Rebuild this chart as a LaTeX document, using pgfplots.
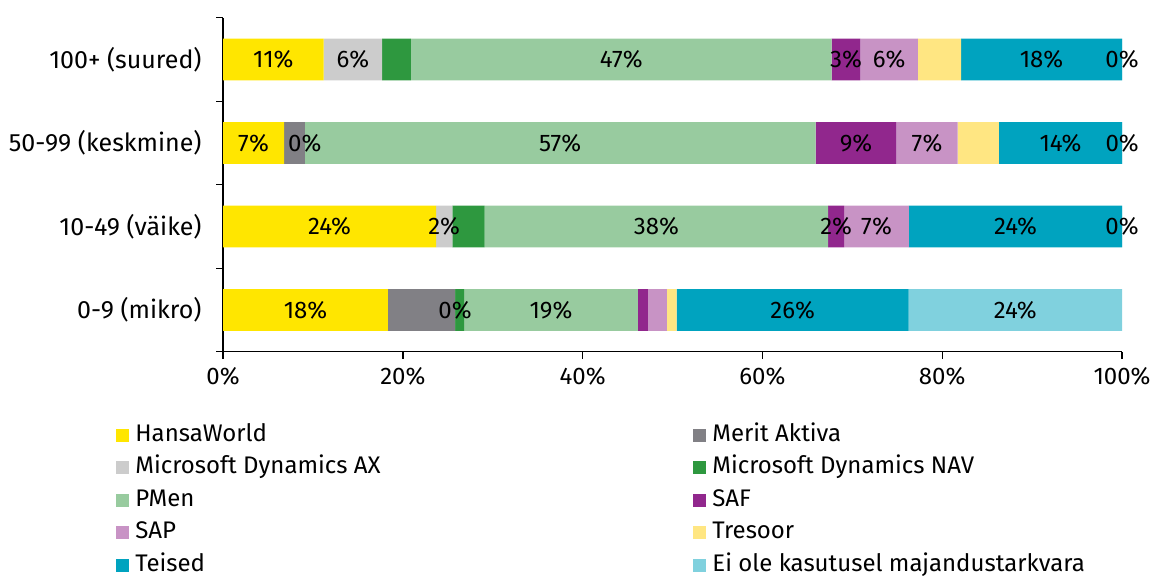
\documentclass[border=0pt]{standalone}
\usepackage{fontspec}
\setmainfont{Fira Sans}
\usepackage{pgfplots}
\pgfplotsset{compat=1.18}

\definecolor{hansa}{HTML}{FFE600}
\definecolor{merit}{HTML}{818085}
\definecolor{msax}{HTML}{CCCCCC}
\definecolor{msnav}{HTML}{2E983F}
\definecolor{pmen}{HTML}{98CB9F}
\definecolor{saf}{HTML}{91278D}
\definecolor{sap}{HTML}{C893C5}
\definecolor{tresoor}{HTML}{FFE682}
\definecolor{teised}{HTML}{00A3BF}
\definecolor{eiole}{HTML}{80D1DE}
\newcommand\cf{\fontsize{12pt}{14pt}\selectfont}
\newcommand\yf{\fontsize{12.5pt}{14pt}\selectfont}

\begin{document}
\cf
\begin{tikzpicture}
\begin{axis}[
    name=ax,
    xbar stacked, bar width=0.5,
    scale only axis, width=449.5pt, height=167pt,
    xmin=0, xmax=100, ymin=-0.5, ymax=3.5,
    axis lines*=left,
    axis line style={line width=0.7pt},
    tick style={line width=0.7pt, black},
    tick align=outside, major tick length=3.5pt,
    xtick={0,20,...,100},
    xticklabels={0\%,20\%,40\%,60\%,80\%,100\%},
    ytick={-0.5,0.5,1.5,2.5,3.5}, yticklabels={},
    extra y ticks={0,1,2,3},
    extra y tick labels={0-9 (mikro),10-49 (väike),50-99 (keskmine),100+ (suured)},
    extra y tick style={major tick length=0pt, yticklabel style={xshift=-6.5pt, font=\yf}},
    tick label style={font=\cf},
    clip=false,
    point meta=explicit symbolic,
    every node near coord/.append style={anchor=center, font=\cf, text=black},
    legend columns=2,
    legend cell align=left,
    legend style={draw=none, fill=none, at={(-0.119,-0.2165)}, anchor=north west,
        inner sep=0pt, row sep=5.25pt, font=\cf,
        nodes={inner ysep=0pt, inner xsep=3pt, text height=8.5pt, text depth=2.5pt}},
    legend image code/.code={\fill[#1] (0pt,-3.25pt) rectangle (6.5pt,3.25pt);},
]
% rows: 0 = 0-9, 1 = 10-49, 2 = 50-99, 3 = 100+
% 0.01 stands for the segments that are labelled 0%
\addplot[fill=hansa, draw=none, nodes near coords] coordinates
    {(18.35,0) [18\%] (23.7,1) [24\%] (6.8,2) [7\%] (11.2,3) [11\%]};
\addlegendentry{\makebox[276pt][l]{HansaWorld}}
\addplot[fill=merit, draw=none] coordinates
    {(7.45,0) (0,1) (2.3,2) (0,3)};
\addlegendentry{Merit Aktiva}
\addplot[fill=msax, draw=none, nodes near coords] coordinates
    {(0.01,0) [0\%] (1.8,1) [2\%] (0.01,2) [0\%] (6.5,3) [6\%]};
\addlegendentry{\makebox[276pt][l]{Microsoft Dynamics AX}}
\addplot[fill=msnav, draw=none] coordinates
    {(1.0,0) (3.6,1) (0,2) (3.2,3)};
\addlegendentry{Microsoft Dynamics NAV}
\addplot[fill=pmen, draw=none, nodes near coords] coordinates
    {(19.35,0) [19\%] (38.2,1) [38\%] (56.8,2) [57\%] (46.8,3) [47\%]};
\addlegendentry{\makebox[276pt][l]{PMen}}
\addplot[fill=saf, draw=none, nodes near coords] coordinates
    {(1.1,0) [] (1.8,1) [2\%] (9.0,2) [9\%] (3.2,3) [3\%]};
\addlegendentry{SAF}
\addplot[fill=sap, draw=none, nodes near coords] coordinates
    {(2.1,0) [] (7.2,1) [7\%] (6.8,2) [7\%] (6.4,3) [6\%]};
\addlegendentry{\makebox[276pt][l]{SAP}}
\addplot[fill=tresoor, draw=none] coordinates
    {(1.1,0) (0,1) (4.6,2) (4.8,3)};
\addlegendentry{Tresoor}
\addplot[fill=teised, draw=none, nodes near coords] coordinates
    {(25.8,0) [26\%] (23.7,1) [24\%] (13.7,2) [14\%] (17.9,3) [18\%]};
\addlegendentry{\makebox[276pt][l]{Teised}}
\addplot[fill=eiole, draw=none, nodes near coords] coordinates
    {(23.74,0) [24\%] (0.01,1) [0\%] (0.01,2) [0\%] (0.01,3) [0\%]};
\addlegendentry{Ei ole kasutusel majandustarkvara}
\end{axis}
\pgfresetboundingbox
\path (ax.south west) ++(-111.5pt,-111.65pt) rectangle ++(577pt,287.5pt);
\end{tikzpicture}
\end{document}
